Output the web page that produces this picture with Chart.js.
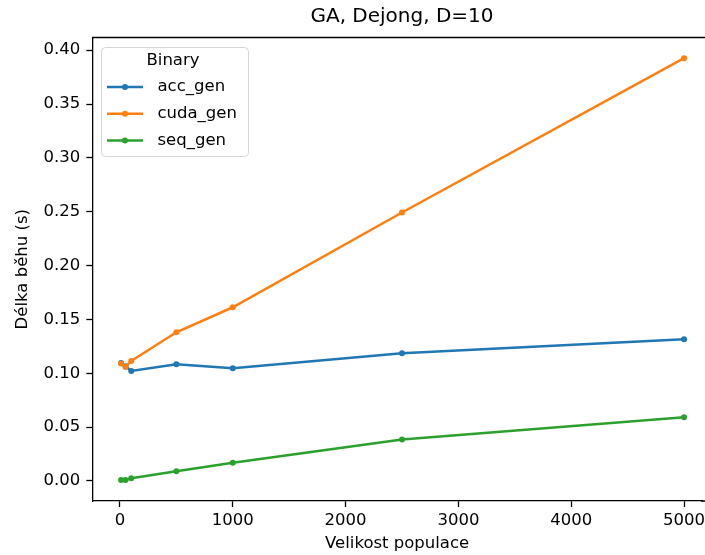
<!DOCTYPE html>
<html>
<head>
<meta charset="utf-8">
<script src="https://cdn.jsdelivr.net/npm/chart.js@4"></script>
<style>
  html, body { margin: 0; padding: 0; overflow: hidden; background: #fff; }
  #wrap { width: 705px; height: 555px; }
</style>
</head>
<body>
<div id="wrap"><canvas id="gaChart" width="705" height="555"></canvas></div>
<script>
// data block
const populations = [10, 50, 100, 500, 1000, 2500, 5000];
const accGen = [0.1096, 0.1065, 0.1022, 0.1084, 0.1047, 0.1186, 0.1316];
const cudaGen = [0.109, 0.1059, 0.1114, 0.1381, 0.1613, 0.2493, 0.3926];
const seqGen = [0.001, 0.001, 0.0025, 0.009, 0.0169, 0.0384, 0.0592];
const xTicks = [0, 1000, 2000, 3000, 4000, 5000];
const yTicks = [0, 0.05, 0.1, 0.15, 0.2, 0.25, 0.3, 0.35, 0.4];

const FONT = "'DejaVu Sans', sans-serif";
Chart.defaults.color = "#000";
Chart.defaults.font.family = FONT;

const toPoints = (ys) => populations.map((x, i) => ({ x: x, y: ys[i] }));

// frame, title and legend like matplotlib
const mplLook = {
  id: "mpl_look",
  afterDraw: (chart) => {
    const { ctx, chartArea: { left, right, top, bottom } } = chart;
    ctx.save();
    ctx.strokeStyle = "#000";
    ctx.lineWidth = 1.3;
    ctx.beginPath();
    ctx.moveTo(left, top);
    ctx.lineTo(chart.width, top);
    ctx.moveTo(right - 1, bottom);
    ctx.lineTo(chart.width, bottom);
    ctx.stroke();

    // title, centred over the full (cropped) axes width
    ctx.fillStyle = "#000";
    ctx.font = "20px " + FONT;
    ctx.textAlign = "center";
    ctx.textBaseline = "middle";
    ctx.fillText("GA, Dejong, D=10", 402, 17);

    // legend box
    const bx = 101.5, by = 47.5, bw = 147, bh = 109, r = 4;
    ctx.beginPath();
    ctx.roundRect(bx, by, bw, bh, r);
    ctx.fillStyle = "rgba(255,255,255,0.8)";
    ctx.fill();
    ctx.strokeStyle = "rgba(204,204,204,0.8)";
    ctx.lineWidth = 1;
    ctx.stroke();

    ctx.fillStyle = "#000";
    ctx.font = "16.5px " + FONT;
    ctx.fillText("Binary", 173, 61);

    ctx.textAlign = "left";
    chart.data.datasets.forEach((ds, i) => {
      const y = 87 + i * 26.7;
      ctx.strokeStyle = ds.borderColor;
      ctx.lineWidth = 2.5;
      ctx.beginPath();
      ctx.moveTo(107, y);
      ctx.lineTo(143, y);
      ctx.stroke();
      ctx.fillStyle = ds.borderColor;
      ctx.beginPath();
      ctx.arc(125, y, 3, 0, Math.PI * 2);
      ctx.fill();
      ctx.fillStyle = "#000";
      ctx.fillText(ds.label, 157.5, y);
    });
    ctx.restore();
  },
};

const makeSet = (label, ys, color, order) => ({
  label: label,
  data: toPoints(ys),
  borderColor: color,
  backgroundColor: color,
  borderWidth: 2.5,
  pointRadius: 3,
  pointBorderWidth: 0,
  pointHoverRadius: 3,
  tension: 0,
  fill: false,
  order: order,
});

const config = {
  type: "line",
  data: {
    datasets: [
      makeSet("acc_gen", accGen, "#1f77b4", 3),
      makeSet("cuda_gen", cudaGen, "#ff7f0e", 2),
      makeSet("seq_gen", seqGen, "#2ca02c", 1),
    ],
  },
  plugins: [mplLook],
  options: {
    responsive: false,
    animation: false,
    layout: { padding: { top: 37.5, right: 0, left: 0, bottom: 0 } },
    plugins: {
      legend: { display: false },
      title: { display: false },
      tooltip: { enabled: false },
    },
    scales: {
      x: {
        type: "linear",
        min: -245,
        max: 5159,
        afterFit: (scale) => { scale.height = 54; scale.paddingRight = 0; },
        afterBuildTicks: (scale) => { scale.ticks = xTicks.map((v) => ({ value: v })); },
        grid: {
          drawOnChartArea: false,
          tickLength: 6,
          tickColor: "#000",
          tickWidth: 1.3,
        },
        border: { color: "#000", width: 1.3 },
        ticks: {
          font: { size: 16.5 },
          padding: 4,
          maxRotation: 0,
          callback: (v) => String(v),
        },
        title: {
          display: true,
          text: "Velikost populace",
          font: { size: 16.5 },
          padding: { top: 0, bottom: 1 },
        },
      },
      y: {
        type: "linear",
        min: -0.0186,
        max: 0.4118,
        afterFit: (scale) => { scale.width = 92.3; },
        afterBuildTicks: (scale) => { scale.ticks = yTicks.map((v) => ({ value: v })); },
        grid: {
          drawOnChartArea: false,
          tickLength: 6,
          tickColor: "#000",
          tickWidth: 1.3,
        },
        border: { color: "#000", width: 1.3 },
        ticks: {
          font: { size: 16.5 },
          padding: 6,
          callback: (v) => v.toFixed(2),
        },
        title: {
          display: true,
          text: "Délka běhu (s)",
          font: { size: 16.5 },
          padding: { top: 13, bottom: 0 },
        },
      },
    },
  },
};

const gaChart = new Chart(document.getElementById("gaChart"), config);
</script>
</body>
</html>
